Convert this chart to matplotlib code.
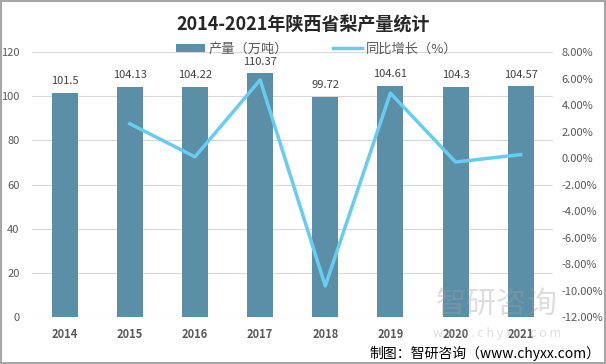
import matplotlib.pyplot as plt
import numpy as np

plt.rcParams['font.family'] = ['Noto Sans CJK SC', 'DejaVu Sans']

years = ["2014", "2015", "2016", "2017", "2018", "2019", "2020", "2021"]
output = [101.5, 104.13, 104.22, 110.37, 99.72, 104.61, 104.3, 104.57]
growth_years = ["2015", "2016", "2017", "2018", "2019", "2020", "2021"]
growth = [2.59, 0.09, 5.90, -9.65, 4.90, -0.30, 0.26]

bar_color = "#5b8fa8"
line_color = "#66ccf0"

fig = plt.figure(figsize=(6.06, 3.64), dpi=100)
ax = fig.add_axes([0.053, 0.129, 0.86, 0.728])
ax2 = ax.twinx()

xs = np.arange(len(years))
bars = ax.bar(xs, output, width=0.4, color=bar_color, zorder=2, label="产量（万吨）")
for x, v in zip(xs, output):
    ax.text(x, v + 3, "%g" % v, ha="center", va="bottom", fontsize=8, color="#404040")

gx = [years.index(y) for y in growth_years]
ax2.plot(gx, growth, color=line_color, lw=2.5, zorder=3, label="同比增长（%）")

ax.set_ylim(0, 120)
ax.set_yticks(range(0, 121, 20))
ax2.set_ylim(-12, 8)
ax2.set_yticks(range(-12, 9, 2))
ax2.set_yticklabels(["%.2f%%" % t for t in range(-12, 9, 2)])
ax.set_xlim(-0.5, len(years) - 0.5)
ax.set_xticks(xs)
ax.set_xticklabels(years, fontweight="bold", fontsize=8, color="#262626")

ax.grid(axis="y", color="#d9d9d9", lw=0.8, zorder=0)
for a in (ax, ax2):
    for s in a.spines.values():
        s.set_visible(False)
    a.tick_params(length=0, labelsize=8, labelcolor="#595959")
ax.tick_params(axis="y", pad=9)
ax2.tick_params(axis="y", pad=6)
ax.tick_params(axis="x", pad=8)

fig.text(0.5, 0.93, "2014-2021年陕西省梨产量统计", ha="center", va="center",
         fontsize=13, fontweight="bold", color="#262626")

h1, l1 = ax.get_legend_handles_labels()
h2, l2 = ax2.get_legend_handles_labels()
fig.legend(h1 + h2, l1 + l2, loc="center", bbox_to_anchor=(0.523, 0.865), ncol=2,
           frameon=False, fontsize=9.5, handlelength=2.2, handleheight=0.6,
           columnspacing=3.4, handletextpad=0.3, labelcolor="#595959")

# watermark
fig.text(0.82, 0.165, "智研咨询", ha="center", va="center", fontsize=22,
         color="#a0a0a0", alpha=0.35)
fig.text(0.82, 0.085, "w w w . c h y x x . c o m", ha="center", va="center",
         fontsize=9, color="#a0a0a0", alpha=0.35)

fig.text(0.99, 0.03, "制图：智研咨询（www.chyxx.com）", ha="right", va="center",
         fontsize=10, color="#000000")

fig.patches.append(plt.Rectangle((0.001, 0.002), 0.997, 0.996, transform=fig.transFigure,
                                 fill=False, edgecolor="#a6a6a6", lw=1.5))

fig.savefig("out.png", dpi=100)
